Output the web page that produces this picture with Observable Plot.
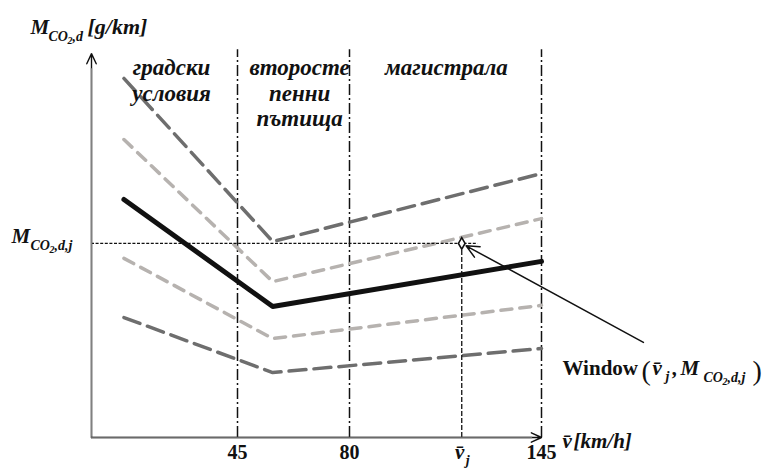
<!DOCTYPE html>
<html>
<head>
<meta charset="utf-8">
<script src="https://cdn.jsdelivr.net/npm/d3@7"></script>
<script src="https://cdn.jsdelivr.net/npm/@observablehq/plot@0.6"></script>
<style>
  html, body { margin: 0; padding: 0; background: #fff; }
  svg { display: block; }
</style>
</head>
<body>
<div id="chart"></div>
<script>
// Speeds (km/h) at the vertices of every emission curve
const knots = [10, 56, 145];
// CO2 emission curves, g/km (schematic units)
const upperBand  = [94.0, 51.3, 69.1];
const upperInner = [78.0, 40.8, 57.3];
const meanCurve  = [62.3, 34.3, 46.1];
const lowerInner = [46.9, 25.9, 34.6];
const lowerBand  = [31.4, 17.0, 23.3];

// Speed boundaries between driving zones and their tick labels
const zoneBounds = [45, 80, 145];
const tickLabels = ["45", "80", "145"];
const zoneNames = ["градски\nусловия", "второсте\nпенни\nпътища", "магистрала"];
const zoneCenters = [24.7, 64.4, 112.8];

// Window average speed and emission
const vj = 118;
const Mj = 50.8;
// Start of the pointer towards the window point
const pointerFrom = [179.5, 24.9];

const axisTop = 100.5;   // end of the vertical axis
const boundTop = 101.5;  // top of the zone boundaries
const xEnd = 145;

// The speed axis is schematic: each zone gets its own stretch of the axis
const speedWarp = d3.scaleLinear([0, 45, 80, 145], [0, 146, 258, 450]);

const serif = "'Liberation Serif', 'DejaVu Serif', serif";

const rows = arr => knots.map((v, i) => ({v, m: arr[i]}));

// Free-standing text pieces positioned in the frame (baseline at dy)
function piece(text, x, y, size, style = "italic", weight = "bold") {
  return Plot.text([text], {
    text: d => d,
    frameAnchor: "top-left",
    dx: x, dy: y,
    textAnchor: "start",
    lineAnchor: "bottom",
    fontSize: size,
    fontFamily: serif,
    fontStyle: style,
    fontWeight: weight,
    fill: "#111"
  });
}

const chart = Plot.plot({
  width: 762,
  height: 472,
  margin: 0,
  style: {background: "#fff", overflow: "visible"},
  x: {transform: speedWarp, domain: [0, 450], range: [91, 541], axis: null},
  y: {domain: [0, 100], range: [437, 55], axis: null},
  marks: [
    // zone boundaries
    Plot.ruleX(zoneBounds, {y1: 0, y2: boundTop, stroke: "#111", strokeWidth: 1.5, strokeDasharray: "11,3,2,3"}),
    // emission curves
    Plot.line(rows(upperBand),  {x: "v", y: "m", stroke: "#6e6e6e", strokeWidth: 3.5, strokeDasharray: "17,8"}),
    Plot.line(rows(upperInner), {x: "v", y: "m", stroke: "#b6b2af", strokeWidth: 3.5, strokeDasharray: "11,8"}),
    Plot.line(rows(lowerInner), {x: "v", y: "m", stroke: "#b6b2af", strokeWidth: 3.5, strokeDasharray: "11,8"}),
    Plot.line(rows(lowerBand),  {x: "v", y: "m", stroke: "#6e6e6e", strokeWidth: 3.5, strokeDasharray: "17,8"}),
    Plot.line(rows(meanCurve),  {x: "v", y: "m", stroke: "#111", strokeWidth: 5}),
    // guide lines to the window point
    Plot.ruleY([Mj], {x1: 0, x2: vj + 5.5, stroke: "#111", strokeWidth: 1.3, strokeDasharray: "3,1.6"}),
    Plot.ruleX([vj], {y1: 0, y2: Mj, stroke: "#111", strokeWidth: 1.3, strokeDasharray: "5,2"}),
    Plot.dot([{v: vj, m: Mj}], {x: "v", y: "m", symbol: "diamond", r: 3.5, fill: "#fff", stroke: "#111", strokeWidth: 1.6}),
    Plot.arrow([{x1: pointerFrom[0], y1: pointerFrom[1], x2: vj, y2: Mj}], {
      x1: "x1", y1: "y1", x2: "x2", y2: "y2",
      stroke: "#111", strokeWidth: 1.5, headLength: 14, headAngle: 50, insetEnd: 5
    }),
    // axes: black arrows, with grey shafts laid over them
    Plot.arrow([{x: 0, y1: 0, y2: axisTop}], {x1: "x", x2: "x", y1: "y1", y2: "y2", stroke: "#111", strokeWidth: 1.4, headLength: 12, headAngle: 50}),
    Plot.ruleX([0], {y1: 0, y2: axisTop - 4, stroke: "#808080", strokeWidth: 1.5}),
    Plot.arrow([{y: 0, x1: 0, x2: xEnd}], {x1: "x1", x2: "x2", y1: "y", y2: "y", stroke: "#111", strokeWidth: 1.4, headLength: 12, headAngle: 50}),
    Plot.ruleY([0], {x1: 0, x2: xEnd - 3, stroke: "#6a6a6a", strokeWidth: 1.6}),
    // tick labels
    Plot.text(zoneBounds, {
      x: d => d, y: 0, dy: 21,
      text: (d, i) => tickLabels[i],
      lineAnchor: "bottom", textAnchor: "middle",
      fontSize: 20, fontWeight: "bold", fontFamily: serif, fill: "#111"
    }),
    Plot.text([vj], {x: d => d, y: 0, dy: 21, dx: -2, text: () => "v\u0304", lineAnchor: "bottom", textAnchor: "middle",
      fontSize: 21, fontWeight: "bold", fontStyle: "italic", fontFamily: serif, fill: "#111"}),
    Plot.text([vj], {x: d => d, y: 0, dy: 27, dx: 4, text: () => "j", lineAnchor: "bottom", textAnchor: "start",
      fontSize: 14, fontWeight: "bold", fontStyle: "italic", fontFamily: serif, fill: "#111"}),
    // zone names
    Plot.text(zoneNames, {
      x: (d, i) => zoneCenters[i], frameAnchor: "top", dy: 57,
      text: d => d, lineAnchor: "top", textAnchor: "middle", lineHeight: 1.1,
      fontSize: 23, fontWeight: "bold", fontStyle: "italic", fontFamily: serif, fill: "#111"
    }),
    // vertical axis title
    piece("M", 30, 33, 21),
    piece("CO", 48, 40, 14),
    piece("2", 67, 43, 10),
    piece(",d", 72, 40, 14),
    piece("[g/km]", 87, 33, 22),
    // horizontal axis title
    piece("v\u0304", 562, 447, 21),
    piece("[km/h]", 573, 447, 21),
    // window level label
    piece("M", 11, 242, 21),
    piece("CO", 30, 249, 14),
    piece("2", 49, 252, 10),
    piece(",d,j", 54, 249, 14),
    // window point label
    piece("Window", 562, 374, 21, "normal", "bold"),
    piece("(", 641, 379, 28, "normal", "normal"),
    piece("v\u0304", 652, 374, 21),
    piece("j", 665, 380, 14),
    piece(",", 672, 374, 21),
    piece("M", 680, 374, 21),
    piece("CO", 703, 381, 14),
    piece("2", 722, 384, 10),
    piece(",d,j", 727, 381, 14),
    piece(")", 752, 379, 28, "normal", "normal")
  ]
});

document.getElementById("chart").appendChild(chart);
</script>
</body>
</html>
